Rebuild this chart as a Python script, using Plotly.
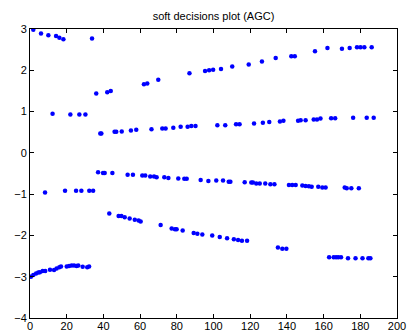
import plotly.graph_objects as go

# cluster near +3 (decreasing)
xa = [1.8, 6.0, 10.0, 14.2, 16.0, 18.2, 33.8]
ya = [2.98, 2.89, 2.85, 2.83, 2.79, 2.75, 2.77]
# cluster rising 1.45 -> 2.56
xb = [36.1, 42.1, 44.0, 62.1, 63.9, 69.9, 86.9, 95.4, 97.6, 99.8, 104.1, 110.2, 119.2, 126.4,
      133.9, 142.4, 144.3, 155.3, 162.1, 170.0, 174.2, 178.2, 180.1, 182.2, 186.2]
yb = [1.44, 1.47, 1.50, 1.66, 1.68, 1.77, 1.93, 1.98, 2.00, 2.01, 2.03, 2.09, 2.14, 2.21,
      2.30, 2.34, 2.34, 2.46, 2.54, 2.52, 2.54, 2.56, 2.56, 2.56, 2.56]
# cluster near +0.93
xc = [12.3, 22.0, 26.9, 30.2]
yc = [0.95, 0.93, 0.93, 0.93]
# cluster rising 0.47 -> 0.85
xd = [38.3, 38.9, 46.1, 47.0, 50.0, 55.0, 57.9, 66.2, 72.1, 73.9, 78.1, 82.1, 85.9, 87.9, 90.2,
      102.1, 106.4, 112.3, 114.2, 122.1, 126.9, 130.4, 136.2, 138.1, 146.1, 147.5, 150.2, 154.6,
      156.4, 158.3, 164.1, 166.3, 176.1, 183.5, 187.3]
yd = [0.47, 0.47, 0.51, 0.51, 0.52, 0.54, 0.56, 0.57, 0.59, 0.59, 0.61, 0.63, 0.63, 0.65, 0.65,
      0.67, 0.67, 0.69, 0.69, 0.71, 0.73, 0.75, 0.76, 0.78, 0.78, 0.79, 0.79, 0.81,
      0.81, 0.83, 0.84, 0.84, 0.85, 0.85, 0.85]
# cluster falling -0.47 -> -0.86
xe = [37.1, 39.8, 40.7, 44.9, 53.2, 56.1, 61.2, 62.8, 65.5, 67.6, 69.0, 73.2, 75.4, 80.8, 84.1,
      85.4, 93.0, 97.2, 101.5, 105.2, 108.3, 109.2, 117.0, 120.6, 121.5, 123.3, 125.2, 128.2,
      131.0, 133.2, 141.1, 142.9, 144.8, 148.4, 150.2, 152.0, 153.5, 157.1, 159.3, 161.1,
      171.5, 172.6, 175.1, 179.2]
ye = [-0.47, -0.49, -0.49, -0.49, -0.53, -0.53, -0.55, -0.55, -0.57, -0.57, -0.59, -0.59, -0.61,
      -0.62, -0.63, -0.63, -0.66, -0.68, -0.67, -0.67, -0.70, -0.70, -0.71, -0.72, -0.72, -0.74,
      -0.74, -0.74, -0.76, -0.76, -0.78, -0.78, -0.78, -0.79, -0.80, -0.81, -0.82, -0.82, -0.84,
      -0.84, -0.84, -0.86, -0.86, -0.86]
# cluster near -0.93
xf = [8.2, 19.1, 25.1, 28.0, 32.3, 34.4]
yf = [-0.96, -0.92, -0.92, -0.92, -0.92, -0.92]
# cluster falling -1.47 -> -2.13
xg = [43.2, 48.3, 49.8, 51.6, 54.3, 57.1, 59.2, 60.3, 71.2, 77.2, 79.0, 79.9, 83.2, 89.2, 91.2,
      93.9, 99.3, 103.4, 107.4, 111.1, 113.4, 115.5, 118.3]
yg = [-1.47, -1.53, -1.53, -1.56, -1.59, -1.62, -1.64, -1.66, -1.75, -1.83, -1.85, -1.85, -1.88,
      -1.94, -1.96, -1.98, -2.00, -2.04, -2.07, -2.09, -2.11, -2.13, -2.13]
# cluster near -2.3
xh = [135.1, 137.5, 139.7]
yh = [-2.29, -2.32, -2.32]
# cluster near -2.55
xi = [163.0, 165.5, 166.8, 168.0, 169.5, 173.3, 177.4, 181.2, 184.4, 185.5]
yi = [-2.53, -2.53, -2.53, -2.53, -2.53, -2.55, -2.55, -2.55, -2.55, -2.55]
# cluster rising -3 -> -2.75
xj = [0.5, 1.8, 3.3, 4.5, 5.4, 6.9, 8.3, 10.9, 13.1, 14.5, 16.0, 16.9, 20.0, 21.3, 22.7, 24.0,
      25.4, 26.3, 28.7, 31.2, 32.2]
yj = [-3.0, -2.96, -2.92, -2.90, -2.89, -2.86, -2.86, -2.83, -2.84, -2.80, -2.77, -2.75, -2.75,
      -2.74, -2.73, -2.73, -2.74, -2.73, -2.76, -2.77, -2.75]

x_all = xa + xb + xc + xd + xe + xf + xg + xh + xi + xj
y_all = ya + yb + yc + yd + ye + yf + yg + yh + yi + yj

title_text = "soft decisions plot (AGC)"
x_ticks = [0, 20, 40, 60, 80, 100, 120, 140, 160, 180, 200]
y_ticks = [-4, -3, -2, -1, 0, 1, 2, 3]

fig = go.Figure()
fig.add_trace(go.Scatter(
    x=x_all, y=y_all, mode="markers",
    marker=dict(color="#0000FF", size=4.5, line=dict(width=0)),
    showlegend=False, hoverinfo="skip",
))

axis_common = dict(
    showgrid=False, zeroline=False, showline=True, linecolor="black", linewidth=1,
    mirror="ticks", ticks="inside", ticklen=4, tickcolor="black", tickwidth=1,
    tickfont=dict(family="Liberation Sans, Arial, sans-serif", size=11, color="black"),
    automargin=False,
)
fig.update_xaxes(range=[0, 200], tickvals=x_ticks, ticklabelstandoff=-2, **axis_common)
fig.update_yaxes(range=[-4, 3], tickvals=y_ticks, **axis_common)

fig.update_layout(
    width=411, height=331,
    margin=dict(l=30, r=14, t=29, b=13, pad=0),
    paper_bgcolor="white", plot_bgcolor="white",
    title=dict(text=title_text, x=(30 + 397) / 2 / 411, xanchor="center",
               y=1 - 16 / 331, yanchor="middle",
               font=dict(family="Liberation Sans, Arial, sans-serif", size=11, color="black")),
)

fig.write_html("out.html", config={"displayModeBar": False},
               post_script="document.body.style.margin='0px';document.body.style.overflow='hidden';")
